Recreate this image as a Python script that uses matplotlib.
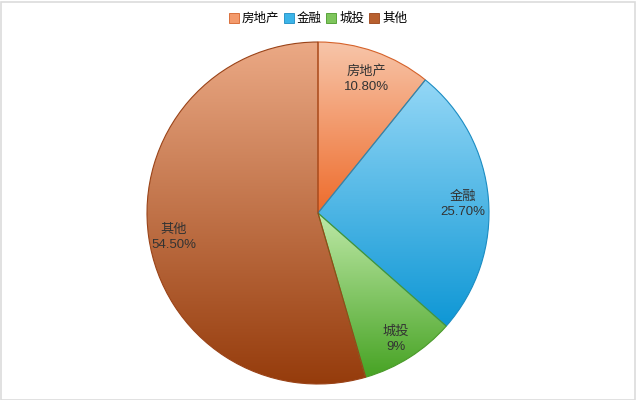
import numpy as np
import matplotlib
matplotlib.use("Agg")
import matplotlib.pyplot as plt
from matplotlib.colors import LinearSegmentedColormap
from matplotlib.patches import Rectangle, Patch

plt.rcParams['font.family'] = ['Liberation Sans', 'Noto Sans CJK SC', 'DejaVu Sans']

# data
labels = ["房地产", "金融", "城投", "其他"]
values = [10.8, 25.7, 9.0, 54.5]
pct_text = ["10.80%", "25.70%", "9%", "54.50%"]

# gradient (top colour, bottom colour) and edge colour for each slice
tops = ["#f7c5a9", "#94d7f6", "#bfe9a8", "#eba985"]
bottoms = ["#ee6c2c", "#0e97d5", "#47a324", "#953b0b"]
edges = ["#d5622a", "#1b8cc2", "#4a9a2a", "#9a4318"]
legend_fill = ["#f39a6c", "#3cb4e8", "#7ec55c", "#b8602f"]

fig = plt.figure(figsize=(6.36, 4.0), dpi=100)
fig.patch.set_facecolor("white")

# pie centred at (318, 213) px with radius ~171 px
cx, cy, r = 318, 213, 171
ax = fig.add_axes([(cx - r) / 636, (400 - cy - r) / 400, 2 * r / 636, 2 * r / 400])
wedges, _ = ax.pie(values, startangle=90, counterclock=False, radius=1,
                   wedgeprops=dict(linewidth=0.8))
ax.set_aspect("equal")
ax.axis("off")

for w, top, bot, ec in zip(wedges, tops, bottoms, edges):
    w.set_facecolor("none")
    w.set_edgecolor(ec)
    w.set_zorder(3)
    verts = w.get_path().vertices
    x0, x1 = verts[:, 0].min(), verts[:, 0].max()
    y0, y1 = verts[:, 1].min(), verts[:, 1].max()
    cmap = LinearSegmentedColormap.from_list("g", [bot, top])
    grad = np.linspace(0, 1, 256).reshape(-1, 1)
    im = ax.imshow(grad, cmap=cmap, origin="lower", aspect="auto",
                   extent=[x0, x1, y0, y1], zorder=2, interpolation="bilinear")
    im.set_clip_path(w)

# slice labels inside
start = 90.0
for lab, v, pt in zip(labels, values, pct_text):
    mid = np.deg2rad(start - v * 3.6 / 2)
    start -= v * 3.6
    d = 0.85
    ax.text(d * np.cos(mid), d * np.sin(mid) - 0.02, lab + "\n" + pt,
            ha="center", va="center", fontsize=9.5, color="#333333",
            linespacing=1.35, zorder=5)

ax.set_xlim(-1, 1)
ax.set_ylim(-1, 1)

handles = [Patch(facecolor=c, edgecolor=e, linewidth=0.6)
           for c, e in zip(legend_fill, edges)]
fig.legend(handles, labels, loc="center", bbox_to_anchor=(0.5, 1 - 19 / 400),
           ncol=4, frameon=False, fontsize=9, handlelength=0.8,
           handleheight=0.8, handletextpad=0.25, columnspacing=0.35)

fig.patches.append(Rectangle((0.5 / 636, 0.5 / 400), 1 - 2 / 636, 1 - 2 / 400,
                             transform=fig.transFigure, fill=False,
                             edgecolor="#dcdcdc", linewidth=1.2))

fig.savefig("out.png", dpi=100)
